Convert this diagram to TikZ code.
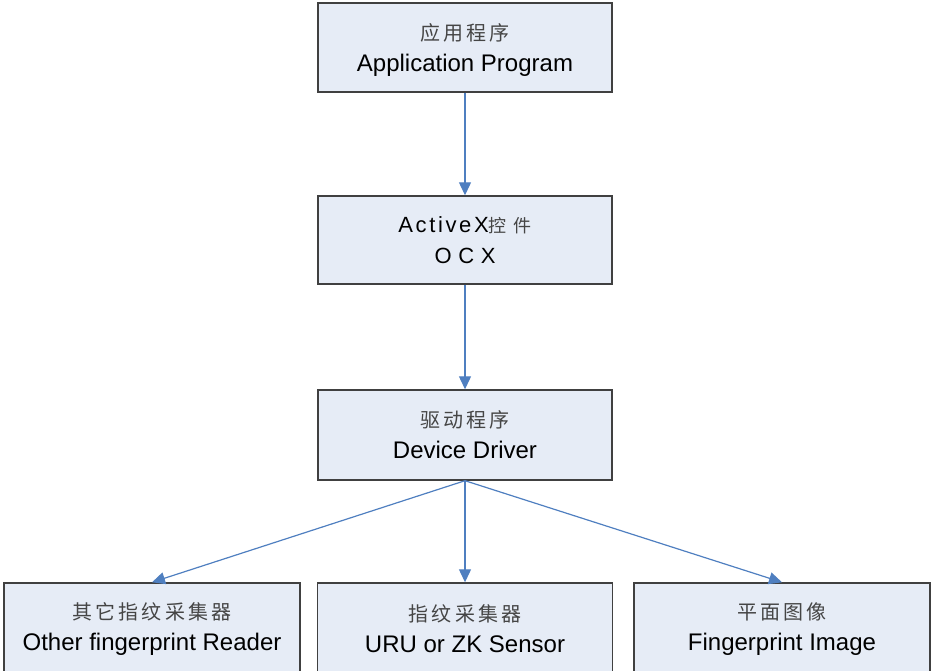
\documentclass[tikz,border=0pt]{standalone}
\usepackage{fontspec}
\setmainfont{Liberation Sans}
\newfontfamily\cjk[LetterSpace=16]{Noto Sans CJK SC}
\usetikzlibrary{arrows.meta}
\definecolor{boxfill}{HTML}{E6ECF6}
\definecolor{boxline}{HTML}{404040}
\definecolor{arrowblue}{HTML}{4F7FC0}
\definecolor{cjkgray}{HTML}{454545}
\newcommand{\zh}[1]{{\fontsize{20}{20}\selectfont\cjk\color{cjkgray}#1}}
\begin{document}
\begin{tikzpicture}[x=1pt,y=-1pt,
  box/.style={draw=boxline,line width=1.4pt,fill=boxfill,minimum width=294pt,
    inner sep=0pt,align=center,font=\fontsize{24}{31}\selectfont},
  conn/.style={draw=arrowblue,line width=1.2pt,-{Triangle[length=13pt,width=12pt]}}]
\useasboundingbox (0,0) rectangle (932,671);
\clip (0,0) rectangle (932,671);
\node[box,minimum height=89pt,text depth=0pt] (A) at (465,47.5) {\zh{应用程序}\\Application Program};
\node[box,minimum height=88pt] (B) at (465,240) {{\addfontfeature{LetterSpace=12}\fontsize{22}{22}\selectfont ActiveX}{\fontsize{18}{18}\selectfont\cjk\color{cjkgray}控 件}\\{\addfontfeature{LetterSpace=30}\fontsize{22}{22}\selectfont OCX}};
\node[box,minimum height=90pt] (C) at (465,435) {\zh{驱动程序}\\Device Driver};
\node[box,minimum width=296pt,minimum height=92pt] (D) at (152,629) {\zh{其它指纹采集器}\\Other fingerprint Reader};
\node[box,minimum width=295pt,minimum height=92pt] (E) at (465,629) {\zh{指纹采集器}\\URU or ZK Sensor};
\node[box,minimum width=296pt,minimum height=92pt] (F) at (782,629) {\zh{平面图像}\\Fingerprint Image};
\draw[conn] (A) -- (B);
\draw[conn] (B) -- (C);
\draw[conn] (C.south) -- (D.north);
\draw[conn] (C.south) -- (E.north);
\draw[conn] (C.south) -- (F.north);
\end{tikzpicture}
\end{document}
